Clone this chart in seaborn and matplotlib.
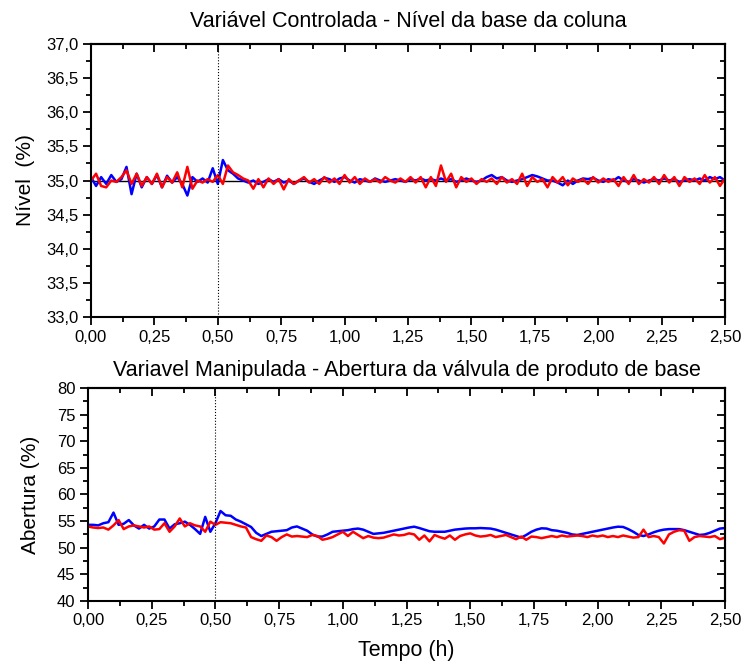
import numpy as np
import pandas as pd
import seaborn as sns
import matplotlib
matplotlib.use("Agg")
import matplotlib.pyplot as plt
from matplotlib.ticker import MultipleLocator, FuncFormatter
#Data (time step 0.02 h)

tempo = np.linspace(0, 2.5, 126)

# nivel da base (%) - blue and red runs
nivel_azul = [
    35.05, 34.92, 35.05, 34.95, 35.08, 34.98, 35.02, 35.2, 34.8, 35.1,
    34.9, 35.05, 34.95, 35.08, 34.9, 35.07, 34.97, 35.05, 34.95, 34.78,
    35.05, 34.98, 35.03, 34.97, 35.18, 34.95, 35.3, 35.15, 35.1, 35.03,
    35.0, 34.97, 35.0, 34.95, 34.98, 35.02, 34.98, 35.02, 34.97, 35.0,
    34.95, 35.0, 35.03, 34.98, 34.95, 35.0, 35.04, 35.02, 34.98, 35.03,
    35.05, 35.0, 34.97, 35.02, 35.0, 34.98, 35.03, 35.0, 34.98, 35.0,
    35.02, 35.0, 34.98, 35.02, 35.0, 35.03, 35.0, 35.02, 35.0, 35.03,
    35.0, 35.02, 34.98, 35.0, 35.03, 35.0, 34.98, 35.0, 35.05, 35.08,
    35.03, 35.05, 35.0, 34.98, 35.0, 35.02, 35.05, 35.08, 35.06, 35.03,
    35.0, 35.0, 34.97, 34.93, 35.0, 34.95, 35.0, 35.03, 35.02, 35.04,
    35.0, 34.98, 35.02, 35.0, 35.05, 35.0, 34.98, 35.02, 35.0, 34.97,
    35.0, 35.02, 35.0, 35.03, 35.0, 35.02, 34.98, 35.0, 35.02, 35.0,
    35.03, 35.0, 35.05, 35.02, 35.05, 35.0]
nivel_verm = [
    35.0, 35.1, 34.92, 34.9, 35.0, 34.98, 35.05, 35.15, 34.95, 35.1,
    34.92, 35.05, 34.95, 35.1, 34.9, 35.05, 34.97, 35.12, 34.9, 35.2,
    34.88, 35.0, 34.97, 35.02, 34.98, 35.08, 34.95, 35.22, 35.12, 35.08,
    35.03, 35.0, 34.88, 35.02, 34.9, 35.03, 34.95, 35.02, 34.87, 35.02,
    34.95, 35.0, 35.05, 34.97, 35.02, 34.95, 35.05, 34.97, 35.03, 34.95,
    35.08, 34.97, 35.05, 34.95, 35.03, 34.98, 35.02, 34.97, 35.05, 35.0,
    34.97, 35.03, 34.98, 35.05, 34.97, 35.05, 34.9, 35.05, 34.92, 35.22,
    34.98, 35.1, 34.9, 35.05, 34.98, 35.03, 34.95, 35.02, 34.98, 35.03,
    34.95, 35.05, 34.97, 35.02, 34.95, 35.1, 34.92, 35.05, 34.98, 35.02,
    34.9, 35.05, 34.97, 35.05, 34.93, 35.03, 34.98, 35.02, 34.95, 35.05,
    34.97, 35.03, 34.98, 35.02, 34.92, 35.05, 34.95, 35.08, 34.95, 35.02,
    34.97, 35.05, 34.95, 35.08, 34.97, 35.05, 34.92, 35.05, 34.98, 35.03,
    34.95, 35.08, 34.97, 35.05, 34.92, 35.03]

# abertura da valvula (%)
abertura_azul = [
    54.3, 54.3, 54.2, 54.6, 54.8, 56.6, 54.3, 54.5, 55.2, 54.2,
    53.6, 54.3, 53.6, 54.0, 55.3, 55.3, 53.6, 54.4, 54.6, 54.9,
    54.3, 53.5, 52.6, 55.8, 53.0, 54.6, 56.9, 56.1, 56.0, 55.3,
    54.9, 54.4, 53.9, 52.8, 52.2, 52.6, 53.0, 53.1, 53.2, 53.3,
    53.8, 54.0, 53.6, 53.2, 52.5, 52.1, 52.1, 52.5, 53.0, 53.1,
    53.2, 53.3, 53.5, 53.6, 53.4, 53.0, 52.6, 52.7, 52.8, 53.0,
    53.2, 53.4, 53.6, 53.8, 53.95, 53.7, 53.4, 53.1, 53.0, 53.0,
    53.0, 53.2, 53.4, 53.5, 53.6, 53.65, 53.65, 53.7, 53.65, 53.6,
    53.4, 53.1, 52.8, 52.5, 52.2, 51.9, 52.4, 53.0, 53.4, 53.65,
    53.6, 53.3, 53.2, 53.0, 52.8, 52.5, 52.4, 52.6, 52.8, 53.0,
    53.2, 53.4, 53.6, 53.8, 53.95, 53.9, 53.5, 53.0, 52.4, 52.2,
    52.5, 52.9, 53.2, 53.4, 53.5, 53.5, 53.5, 53.3, 53.0, 52.7,
    52.4, 52.5, 52.8, 53.2, 53.6, 53.7]
abertura_verm = [
    54.0, 53.8, 53.7, 53.8, 53.4, 54.2, 55.2, 53.5, 54.0, 54.2,
    54.0, 53.8, 54.0, 53.4, 53.5, 54.6, 53.0, 54.0, 55.5, 54.0,
    54.6, 54.2, 54.0, 53.0, 54.9, 54.3, 54.8, 54.7, 54.6, 54.3,
    54.0, 53.8, 52.0, 51.6, 51.3, 52.3, 52.0, 51.3, 52.0, 52.5,
    52.1, 52.2, 52.1, 52.0, 52.4, 52.2, 51.5, 51.7, 52.0, 52.5,
    53.0, 52.2, 53.0, 52.4, 51.8, 52.2, 51.9, 51.8, 51.9, 52.2,
    52.5, 52.3, 52.4, 52.7, 52.5, 51.5, 52.3, 51.2, 52.4, 52.0,
    51.7, 52.3, 51.5, 52.2, 52.5, 52.7, 52.3, 52.1, 52.2, 52.4,
    52.0, 52.2, 52.4, 52.0, 51.6, 52.1, 51.5, 52.1, 52.0, 51.8,
    52.0, 52.2, 52.0, 52.3, 52.1, 52.2, 52.3, 52.2, 52.0, 52.3,
    52.1, 52.3, 52.0, 52.2, 52.0, 52.3, 52.1, 51.9, 52.0, 53.4,
    52.0, 52.2, 52.0, 50.8, 52.5, 53.0, 53.3, 53.2, 51.3, 52.0,
    52.2, 52.1, 52.0, 52.2, 51.6, 51.9]

setpoint = 35.0
t_degrau = 0.5


def virgula(casas):
    # comma as decimal separator
    return FuncFormatter(lambda v, p: f"{v:.{casas}f}".replace(".", ","))


def eixos(ax, ymaj, ymin, ydec):
    ax.set_xlim(0, 2.5)
    ax.xaxis.set_major_locator(MultipleLocator(0.25))
    ax.xaxis.set_minor_locator(MultipleLocator(0.125))
    ax.yaxis.set_major_locator(MultipleLocator(ymaj))
    ax.yaxis.set_minor_locator(MultipleLocator(ymin))
    ax.xaxis.set_major_formatter(virgula(2))
    ax.yaxis.set_major_formatter(virgula(ydec))
    ax.tick_params(which="major", direction="out", length=6, width=1.3,
                   labelsize=12, pad=3, color="black", labelcolor="black")
    ax.tick_params(which="minor", direction="out", length=3.6, width=1.3, color="black")
    for s in ax.spines.values():
        s.set_linewidth(1.5)
        s.set_color("black")
    # inner ticks on top and right
    top = ax.secondary_xaxis("top")
    top.xaxis.set_major_locator(MultipleLocator(0.25))
    top.xaxis.set_minor_locator(MultipleLocator(0.125))
    top.tick_params(which="major", direction="in", length=6, width=1.3, labeltop=False, color="black")
    top.tick_params(which="minor", direction="in", length=3.6, width=1.3, color="black")
    top.spines["top"].set_linewidth(1.5)
    top.spines["top"].set_color("black")
    right = ax.secondary_yaxis("right")
    right.yaxis.set_major_locator(MultipleLocator(ymaj))
    right.yaxis.set_minor_locator(MultipleLocator(ymin))
    right.tick_params(which="major", direction="in", length=6, width=1.3, labelright=False, color="black")
    right.tick_params(which="minor", direction="in", length=3.6, width=1.3, color="black")
    right.spines["right"].set_linewidth(1.5)
    right.spines["right"].set_color("black")
    ax.set_xlabel("")


sns.set_theme(style="ticks")
plt.rcParams["font.family"] = ["Liberation Sans", "DejaVu Sans"]
plt.rcParams["text.color"] = "black"
plt.rcParams["axes.labelcolor"] = "black"

df_nivel = pd.DataFrame({"t": tempo, "azul": nivel_azul, "verm": nivel_verm})
df_ab = pd.DataFrame({"t": tempo, "azul": abertura_azul, "verm": abertura_verm})

fig = plt.figure(figsize=(7.44, 6.61), dpi=100)
ax1 = fig.add_axes([0.1223, 0.5204, 0.8522, 0.4130])
ax2 = fig.add_axes([0.1183, 0.0908, 0.8562, 0.3222])

# top: controlled variable
ax1.axhline(setpoint, color="black", lw=1.0, zorder=1)
sns.lineplot(data=df_nivel, x="t", y="azul", ax=ax1, color="#0000ff", lw=1.8)
sns.lineplot(data=df_nivel, x="t", y="verm", ax=ax1, color="#ff0000", lw=1.8)
ax1.axvline(t_degrau, color="black", lw=0.8, ls=":")
ax1.set_ylim(33, 37)
eixos(ax1, 0.5, 0.25, 1)
ax1.set_ylabel("Nível  (%)", fontsize=15, labelpad=8)
ax1.set_title("Variável Controlada - Nível da base da coluna", fontsize=15.5, pad=12)

# bottom: manipulated variable
sns.lineplot(data=df_ab, x="t", y="azul", ax=ax2, color="#0000ff", lw=1.8)
sns.lineplot(data=df_ab, x="t", y="verm", ax=ax2, color="#ff0000", lw=1.8)
ax2.axvline(t_degrau, color="black", lw=0.8, ls=":")
ax2.set_ylim(40, 80)
eixos(ax2, 5, 2.5, 0)
ax2.set_ylabel("Abertura (%)", fontsize=15, labelpad=12)
ax2.set_title("Variavel Manipulada - Abertura da válvula de produto de base", fontsize=15.5, pad=9)
ax2.set_xlabel("Tempo (h)", fontsize=15.5, labelpad=8)

fig.savefig("out.png", dpi=100)
